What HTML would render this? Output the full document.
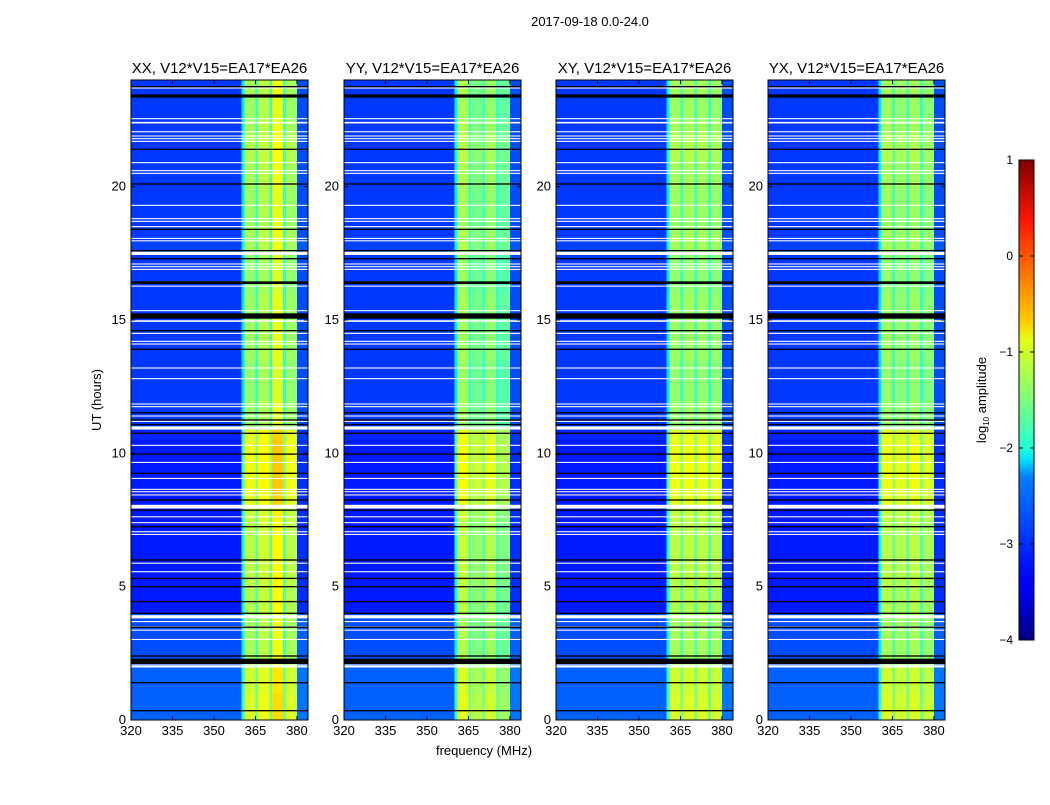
<!DOCTYPE html>
<html><head><meta charset="utf-8"><style>
body{margin:0;background:#fff;}
svg text{font-family:"Liberation Sans",sans-serif;fill:#000;}
</style></head><body>
<svg id="fig" width="1050" height="800" xmlns="http://www.w3.org/2000/svg">
<text x="590" y="26" font-size="13" text-anchor="middle">2017-09-18 0.0-24.0</text>
<g id="panels"></g>
<defs><linearGradient id="jet" x1="0" y1="1" x2="0" y2="0">
<stop offset="0" stop-color="#00007f"/><stop offset="0.11" stop-color="#0000ff"/><stop offset="0.125" stop-color="#0000ff"/>
<stop offset="0.34" stop-color="#0080ff"/><stop offset="0.375" stop-color="#00e0ff"/><stop offset="0.4" stop-color="#20ffd8"/>
<stop offset="0.5" stop-color="#7dff7a"/><stop offset="0.625" stop-color="#e4ff13"/><stop offset="0.66" stop-color="#ffd000"/>
<stop offset="0.8" stop-color="#ff5500"/><stop offset="0.875" stop-color="#ff1400"/><stop offset="1" stop-color="#7f0000"/>
</linearGradient></defs>
<rect x="1019" y="160" width="15" height="480" fill="url(#jet)" stroke="#000" stroke-width="1"/>
<g id="cbar"></g>
<text transform="translate(986,400) rotate(-90)" font-size="13" text-anchor="middle">log<tspan font-size="8" dy="3">10</tspan><tspan dy="-3"> amplitude</tspan></text>
<text transform="translate(101,400) rotate(-90)" font-size="13" text-anchor="middle">UT (hours)</text>
<text x="484" y="755" font-size="13" text-anchor="middle">frequency (MHz)</text>
</svg>
<script>
const panelTitles=["XX, V12*V15=EA17*EA26","YY, V12*V15=EA17*EA26","XY, V12*V15=EA17*EA26","YX, V12*V15=EA17*EA26"];
const panelLeft=[131,344,556,768];
// band levels per panel: [bg, s1, dip, s2, dip, s3, dip, s4, highEdge]
const bandXX=[-3.1,-1.3,-1.8,-1.2,-1.8,-0.95,-1.8,-1.3,-3.0];
const bandYY=[-3.1,-1.25,-1.8,-1.5,-1.8,-1.35,-1.8,-1.6,-3.0];
const bandXY=[-3.1,-1.3,-1.8,-1.3,-1.8,-1.3,-1.8,-1.35,-3.0];
const bandYX=[-3.1,-1.3,-1.8,-1.35,-1.8,-1.3,-1.8,-1.4,-3.0];
const bands=[bandXX,bandYY,bandXY,bandYX];
// per 0.5h row offsets (row 0 = 0-0.5h)
const bgOff=[0.2,0.2,0.2,0.2,0.1,0.1,0.1,0.1,-0.15,-0.15,-0.15,-0.15,-0.15,-0.15,-0.15,-0.15,-0.15,-0.15,-0.15,-0.15,-0.15,-0.1,0,0,0,0,0,0,0,0,0,0,0,0,0,0.05,0,0,0,0,0,0,0,0,0,0,0,0];
const bandOff=[0.25,0.25,0.2,0.2,0,0,0,0,0.05,0.05,0.1,0.1,0.1,0.1,0.1,0.15,0.3,0.35,0.35,0.35,0.35,0.3,-0.05,-0.05,-0.1,-0.1,-0.1,-0.05,-0.05,-0.05,-0.05,-0.05,-0.1,-0.1,-0.1,0,0,-0.05,-0.05,-0.05,0,0,0.05,0.05,0,-0.05,-0.05,0];
const whiteFlags=[0.0,2.0,2.06,3.02,3.37,3.5,3.69,3.87,5.56,5.88,6.96,7.06,7.4,7.62,8.0,8.44,8.56,8.65,9.06,9.66,10.3,10.95,11.2,11.4,11.75,11.85,12.8,13.2,14.1,14.2,14.5,14.96,15.35,16.27,16.9,17.0,17.1,17.5,17.97,18.06,18.5,18.7,18.8,19.3,20.5,20.6,20.9,21.7,21.8,21.9,22.06,22.4,22.55,23.7];
const whiteWidth=[0.04,0.06,0.04,0.04,0.04,0.04,0.04,0.12,0.04,0.04,0.04,0.04,0.04,0.04,0.14,0.04,0.04,0.04,0.04,0.04,0.04,0.12,0.04,0.04,0.04,0.04,0.04,0.04,0.04,0.04,0.04,0.06,0.04,0.04,0.04,0.04,0.04,0.12,0.04,0.04,0.04,0.04,0.04,0.04,0.04,0.04,0.04,0.04,0.04,0.04,0.04,0.06,0.04,0.04];
const blackFlags=[0.35,1.4,2.2,2.4,3.48,4.0,4.44,5.0,5.31,6.0,7.25,7.87,8.25,9.25,9.97,10.75,11.08,11.25,11.52,13.9,14.6,15.15,16.4,17.3,17.6,18.4,20.1,21.4,23.4,23.75];
const blackWidth=[0.05,0.05,0.2,0.05,0.05,0.05,0.05,0.05,0.05,0.05,0.05,0.05,0.05,0.05,0.05,0.05,0.05,0.05,0.05,0.05,0.05,0.2,0.1,0.05,0.05,0.05,0.05,0.05,0.12,0.05];
const xTicks=[320,335,350,365,380];
const yTicks=[0,5,10,15,20];
const cbTicks=[1,0,-1,-2,-3,-4];

const NS="http://www.w3.org/2000/svg";
const PW=177,TOP=80,BOT=720,F0=320,F1=384,T1=24;
function jet(v){let t=(v+4)/5;t=Math.max(0,Math.min(1,t));
 const c=x=>Math.max(0,Math.min(1,x));
 const r=c(1.5-Math.abs(4*t-3)),g=c(1.5-Math.abs(4*t-2)),b=c(1.5-Math.abs(4*t-1));
 return `rgb(${Math.round(r*255)},${Math.round(g*255)},${Math.round(b*255)})`;}
function mk(tag,attrs,parent){const e=document.createElementNS(NS,tag);for(const k in attrs)e.setAttribute(k,attrs[k]);parent.appendChild(e);return e;}
function chanLevel(b,f){
 if(f<360) return b[0];
 if(f<361) return (b[0]+b[1])/2;
 if(f<365) return b[1]; if(f<366) return b[2];
 if(f<370) return b[3]; if(f<371) return b[4];
 if(f<375) return b[5]; if(f<376) return b[6];
 if(f<380) return b[7]; return b[8];}
const root=document.getElementById('panels');
panelTitles.forEach((title,p)=>{
 const L=panelLeft[p];
 const xs=f=>L+(f-F0)/(F1-F0)*PW;
 const ys=t=>BOT-(t/T1)*(BOT-TOP);
 const g=mk('g',{},root);
 
 
 const hm=mk('g',{'shape-rendering':'crispEdges'},g);
 
 
 for(let r=0;r<bgOff.length;r++){
  for(let f=F0;f<F1;f++){
   const base=chanLevel(bands[p],f);
   const v=base+(f>=360&&f<380?bandOff[r]:bgOff[r]);
   const x0=xs(f),x1=xs(f+1),y0=ys((r+1)*0.5),y1=ys(r*0.5);
   const c=mk('rect',{x:x0.toFixed(2),y:y0.toFixed(2),width:(x1-x0+0.6).toFixed(2),height:(y1-y0+0.6).toFixed(2),fill:jet(v)},hm);
   
   
  }
 }
 whiteFlags.forEach((t,i)=>{const h=Math.max(1,whiteWidth[i]/T1*(BOT-TOP));
  const e=mk('rect',{x:L,y:(ys(t)-h/2).toFixed(2),width:PW,height:h.toFixed(2),fill:'#fff'},g);
  
  });
 blackFlags.forEach((t,i)=>{const h=Math.max(1,blackWidth[i]/T1*(BOT-TOP));
  const e=mk('rect',{x:L,y:(ys(t)-h/2).toFixed(2),width:PW,height:h.toFixed(2),fill:'#000'},g);
  
  });
 const fr=mk('rect',{x:L,y:TOP,width:PW,height:BOT-TOP,fill:'none',stroke:'#000','stroke-width':1},g);
 
 
 const tt=mk('text',{x:L+PW/2,y:73,'font-size':15,'text-anchor':'middle'},g);
 tt.textContent=title;
 
 
 xTicks.forEach(v=>{const x=xs(v);
  mk('line',{x1:x,x2:x,y1:BOT,y2:BOT-4,stroke:'#000'},g);
  mk('line',{x1:x,x2:x,y1:TOP,y2:TOP+4,stroke:'#000'},g);
  const t=mk('text',{x:x,y:BOT+15,'font-size':13,'text-anchor':'middle'},g);t.textContent=v;
  
  });
 yTicks.forEach(v=>{const y=ys(v);
  mk('line',{x1:L,x2:L+4,y1:y,y2:y,stroke:'#000'},g);
  mk('line',{x1:L+PW,x2:L+PW-4,y1:y,y2:y,stroke:'#000'},g);
  const t=mk('text',{x:L-5,y:y+4,'font-size':13,'text-anchor':'end'},g);t.textContent=v;
  
  });
});
const cb=document.getElementById('cbar');
cbTicks.forEach(v=>{const y=160+(1-v)/5*480;
 mk('line',{x1:1019,x2:1023,y1:y,y2:y,stroke:'#000'},cb);
 mk('line',{x1:1034,x2:1030,y1:y,y2:y,stroke:'#000'},cb);
 const t=mk('text',{x:1013,y:y+4,'font-size':12,'text-anchor':'end'},cb);
 t.textContent=v<0?'\u2212'+(-v):String(v);
 
 });
</script>
</body></html>
